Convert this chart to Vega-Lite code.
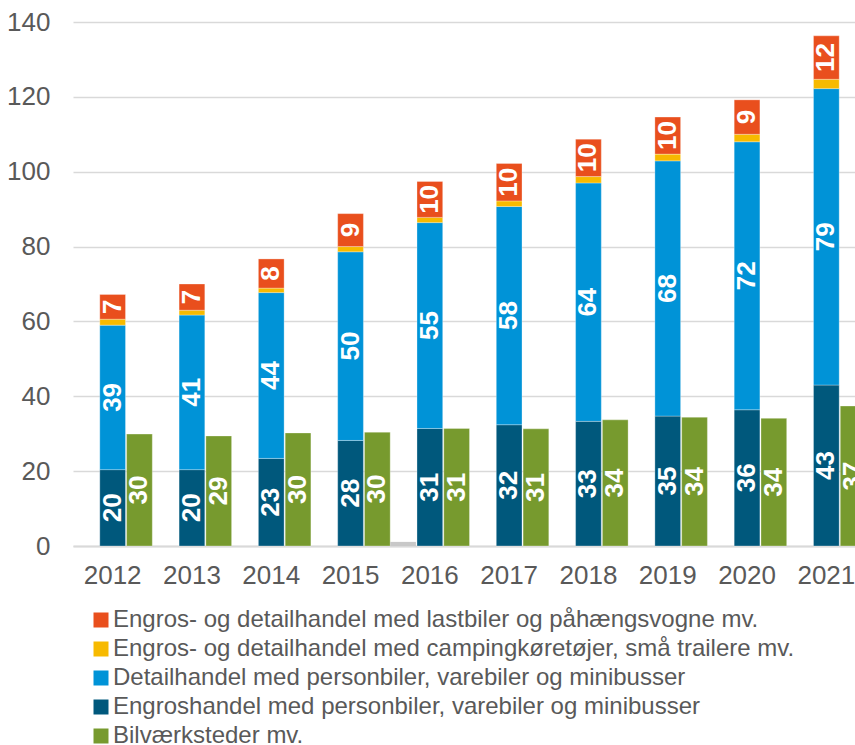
{
  "$schema": "https://vega.github.io/schema/vega-lite/v6.json",
  "width": 782,
  "height": 524,
  "autosize": {"type": "none"},
  "padding": {"left": 73, "top": 22, "right": 0, "bottom": 199},
  "background": "white",
  "config": {"font": "Liberation Sans", "view": {"stroke": null}},
  "data": {
    "values": [
      {"year": "2012", "series": "Engroshandel med personbiler, varebiler og minibusser", "value": 20.4},
      {"year": "2012", "series": "Detailhandel med personbiler, varebiler og minibusser", "value": 38.6},
      {"year": "2012", "series": "Engros- og detailhandel med campingkøretøjer, små trailere mv.", "value": 1.6},
      {"year": "2012", "series": "Engros- og detailhandel med lastbiler og påhængsvogne mv.", "value": 6.6},
      {"year": "2012", "series": "Bilværksteder mv.", "value": 29.9},
      {"year": "2013", "series": "Engroshandel med personbiler, varebiler og minibusser", "value": 20.4},
      {"year": "2013", "series": "Detailhandel med personbiler, varebiler og minibusser", "value": 41.3},
      {"year": "2013", "series": "Engros- og detailhandel med campingkøretøjer, små trailere mv.", "value": 1.3},
      {"year": "2013", "series": "Engros- og detailhandel med lastbiler og påhængsvogne mv.", "value": 7.0},
      {"year": "2013", "series": "Bilværksteder mv.", "value": 29.4},
      {"year": "2014", "series": "Engroshandel med personbiler, varebiler og minibusser", "value": 23.4},
      {"year": "2014", "series": "Detailhandel med personbiler, varebiler og minibusser", "value": 44.3},
      {"year": "2014", "series": "Engros- og detailhandel med campingkøretøjer, små trailere mv.", "value": 1.2},
      {"year": "2014", "series": "Engros- og detailhandel med lastbiler og påhængsvogne mv.", "value": 7.8},
      {"year": "2014", "series": "Bilværksteder mv.", "value": 30.2},
      {"year": "2015", "series": "Engroshandel med personbiler, varebiler og minibusser", "value": 28.2},
      {"year": "2015", "series": "Detailhandel med personbiler, varebiler og minibusser", "value": 50.4},
      {"year": "2015", "series": "Engros- og detailhandel med campingkøretøjer, små trailere mv.", "value": 1.4},
      {"year": "2015", "series": "Engros- og detailhandel med lastbiler og påhængsvogne mv.", "value": 8.8},
      {"year": "2015", "series": "Bilværksteder mv.", "value": 30.4},
      {"year": "2016", "series": "Engroshandel med personbiler, varebiler og minibusser", "value": 31.4},
      {"year": "2016", "series": "Detailhandel med personbiler, varebiler og minibusser", "value": 55.0},
      {"year": "2016", "series": "Engros- og detailhandel med campingkøretøjer, små trailere mv.", "value": 1.4},
      {"year": "2016", "series": "Engros- og detailhandel med lastbiler og påhængsvogne mv.", "value": 9.6},
      {"year": "2016", "series": "Bilværksteder mv.", "value": 31.4},
      {"year": "2016", "series": "Andet", "value": 1.1},
      {"year": "2017", "series": "Engroshandel med personbiler, varebiler og minibusser", "value": 32.4},
      {"year": "2017", "series": "Detailhandel med personbiler, varebiler og minibusser", "value": 58.3},
      {"year": "2017", "series": "Engros- og detailhandel med campingkøretøjer, små trailere mv.", "value": 1.5},
      {"year": "2017", "series": "Engros- og detailhandel med lastbiler og påhængsvogne mv.", "value": 10.0},
      {"year": "2017", "series": "Bilværksteder mv.", "value": 31.3},
      {"year": "2018", "series": "Engroshandel med personbiler, varebiler og minibusser", "value": 33.3},
      {"year": "2018", "series": "Detailhandel med personbiler, varebiler og minibusser", "value": 63.7},
      {"year": "2018", "series": "Engros- og detailhandel med campingkøretøjer, små trailere mv.", "value": 1.7},
      {"year": "2018", "series": "Engros- og detailhandel med lastbiler og påhængsvogne mv.", "value": 10.0},
      {"year": "2018", "series": "Bilværksteder mv.", "value": 33.7},
      {"year": "2019", "series": "Engroshandel med personbiler, varebiler og minibusser", "value": 34.7},
      {"year": "2019", "series": "Detailhandel med personbiler, varebiler og minibusser", "value": 68.2},
      {"year": "2019", "series": "Engros- og detailhandel med campingkøretøjer, små trailere mv.", "value": 1.8},
      {"year": "2019", "series": "Engros- og detailhandel med lastbiler og påhængsvogne mv.", "value": 9.9},
      {"year": "2019", "series": "Bilværksteder mv.", "value": 34.4},
      {"year": "2020", "series": "Engroshandel med personbiler, varebiler og minibusser", "value": 36.4},
      {"year": "2020", "series": "Detailhandel med personbiler, varebiler og minibusser", "value": 71.6},
      {"year": "2020", "series": "Engros- og detailhandel med campingkøretøjer, små trailere mv.", "value": 2.0},
      {"year": "2020", "series": "Engros- og detailhandel med lastbiler og påhængsvogne mv.", "value": 9.2},
      {"year": "2020", "series": "Bilværksteder mv.", "value": 34.1},
      {"year": "2021", "series": "Engroshandel med personbiler, varebiler og minibusser", "value": 43.0},
      {"year": "2021", "series": "Detailhandel med personbiler, varebiler og minibusser", "value": 79.2},
      {"year": "2021", "series": "Engros- og detailhandel med campingkøretøjer, små trailere mv.", "value": 2.5},
      {"year": "2021", "series": "Engros- og detailhandel med lastbiler og påhængsvogne mv.", "value": 11.6},
      {"year": "2021", "series": "Bilværksteder mv.", "value": 37.4}
    ]
  },
  "transform": [
    {"calculate": "indexof(['Engroshandel med personbiler, varebiler og minibusser','Detailhandel med personbiler, varebiler og minibusser','Engros- og detailhandel med campingkøretøjer, små trailere mv.','Engros- og detailhandel med lastbiler og påhængsvogne mv.'], datum.series)", "as": "ord"},
    {"calculate": "datum.series === 'Bilværksteder mv.' ? 'c' : (datum.series === 'Andet' ? 'a' : 'b')", "as": "slot"},
    {"stack": "value", "groupby": ["year", "slot"], "sort": [{"field": "ord", "order": "ascending"}], "as": ["v0", "v1"]},
    {"calculate": "(datum.v0 + datum.v1) / 2", "as": "mid"},
    {"calculate": "format(datum.value, '.0f')", "as": "lbl"}
  ],
  "encoding": {
    "x": {
      "field": "year",
      "type": "nominal",
      "scale": {"range": [0, 793], "paddingInner": 0, "paddingOuter": 0},
      "axis": {
        "title": null,
        "labelAngle": 0,
        "labelFontSize": 26,
        "labelColor": "#595959",
        "ticks": false,
        "domainColor": "#d9d9d9",
        "domainWidth": 2,
        "labelPadding": 16
      }
    },
    "xOffset": {
      "field": "slot",
      "type": "nominal",
      "scale": {"domain": ["a", "b", "c"], "paddingInner": 0.04, "paddingOuter": 0}
    }
  },
  "layer": [
    {
      "transform": [{"filter": "datum.series !== 'Andet'"}],
      "mark": {"type": "bar", "stroke": "white", "strokeWidth": 0.6, "strokeOpacity": 0.5},
      "encoding": {
        "y": {
          "field": "v0",
          "type": "quantitative",
          "scale": {"domain": [0, 140], "nice": false},
          "axis": {
            "title": null,
            "values": [0, 20, 40, 60, 80, 100, 120, 140],
            "labelFontSize": 26,
            "labelColor": "#595959",
            "ticks": false,
            "domain": false,
            "labelPadding": 23,
            "gridColor": "#d9d9d9",
            "gridWidth": 1.5
          }
        },
        "y2": {"field": "v1"},
        "color": {
          "field": "series",
          "type": "nominal",
          "scale": {
            "domain": [
              "Engros- og detailhandel med lastbiler og påhængsvogne mv.",
              "Engros- og detailhandel med campingkøretøjer, små trailere mv.",
              "Detailhandel med personbiler, varebiler og minibusser",
              "Engroshandel med personbiler, varebiler og minibusser",
              "Bilværksteder mv."
            ],
            "range": ["#E94F1D", "#F7BA00", "#0093D7", "#00587C", "#779A2E"]
          },
          "legend": {
            "title": null,
            "orient": "none",
            "legendX": 16,
            "legendY": 586,
            "direction": "vertical",
            "labelFontSize": 24,
            "labelColor": "#595959",
            "labelLimit": 1000,
            "labelOffset": 0,
            "symbolType": "square",
            "symbolSize": 225,
            "symbolStrokeWidth": 0,
            "rowPadding": 5,
            "padding": 0
          }
        }
      }
    },
    {
      "transform": [{"filter": "datum.series === 'Andet'"}],
      "mark": {"type": "bar", "color": "#C8C8C8"},
      "encoding": {
        "y": {"field": "v0", "type": "quantitative"},
        "y2": {"field": "v1"}
      }
    },
    {
      "transform": [{"filter": "datum.series !== 'Andet' && datum.ord !== 2"}],
      "mark": {"type": "text", "angle": 270, "fontWeight": "bold", "fontSize": 26, "color": "white", "align": "center", "baseline": "middle"},
      "encoding": {
        "y": {"field": "mid", "type": "quantitative"},
        "text": {"field": "lbl"}
      }
    }
  ]
}
